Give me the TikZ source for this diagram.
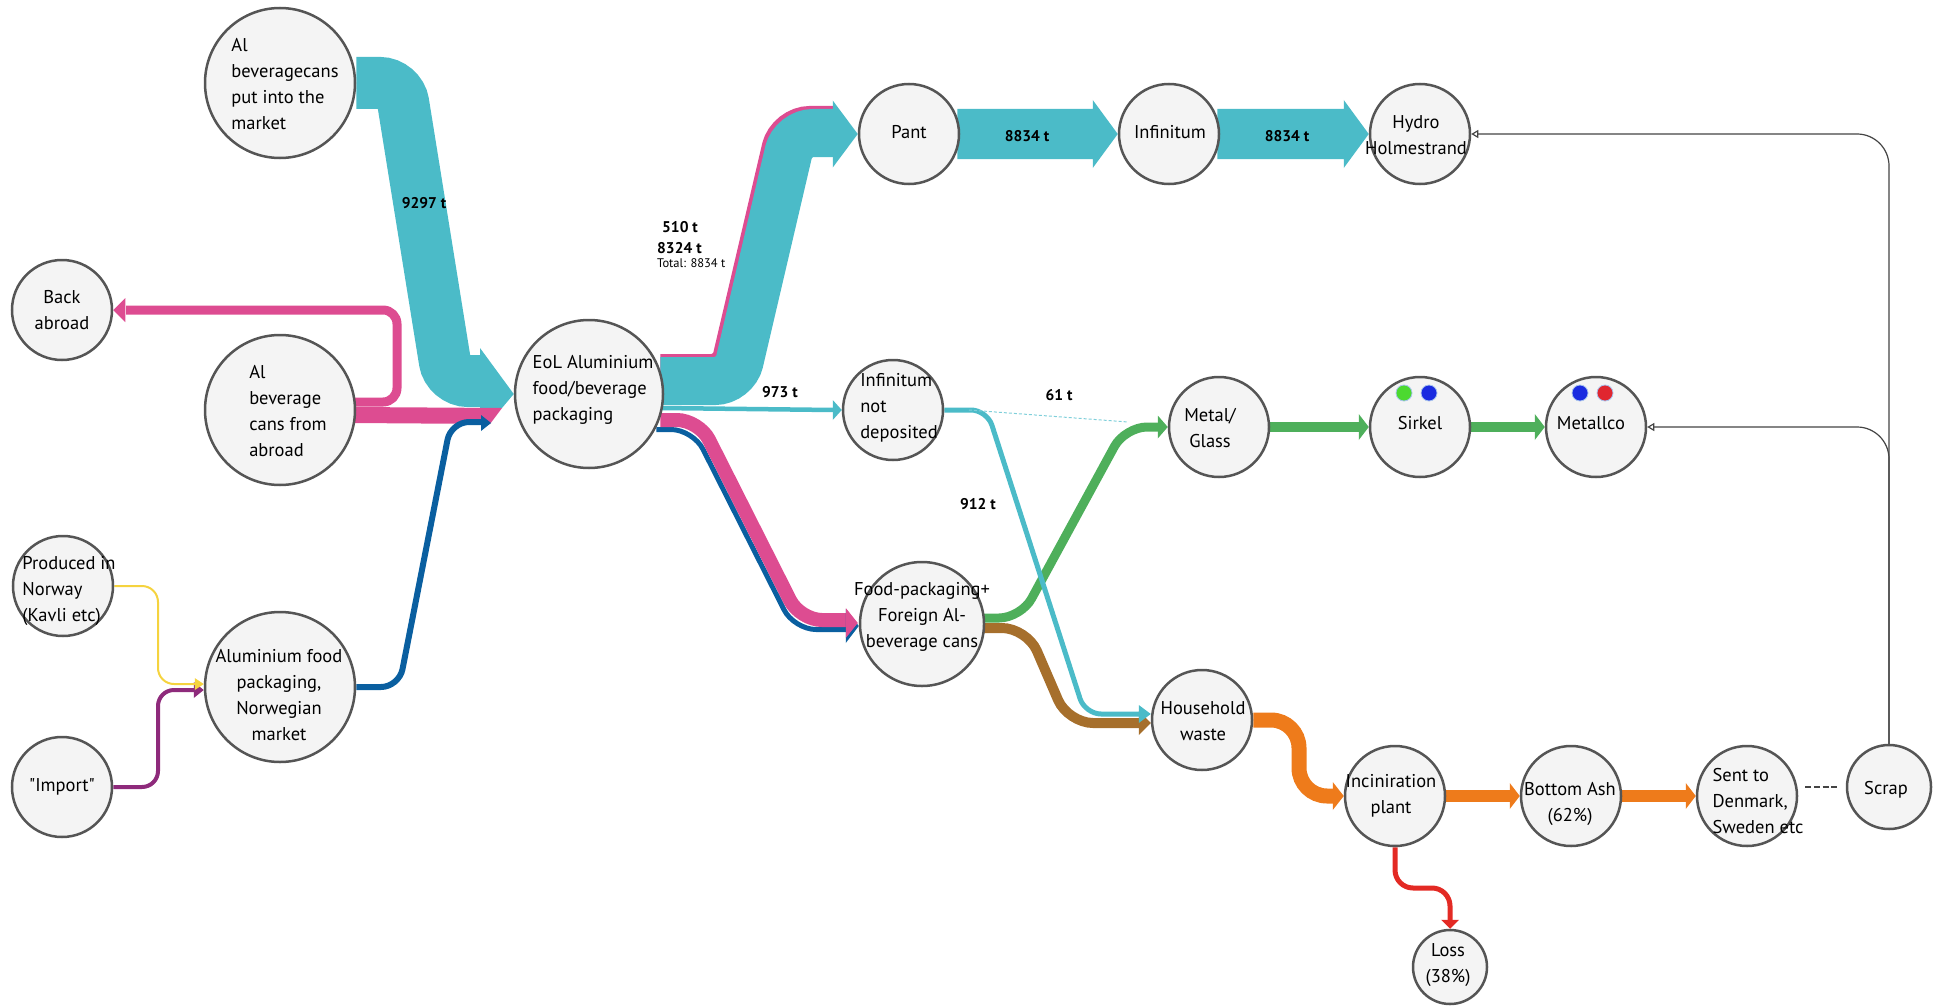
\documentclass[tikz,border=0pt]{standalone}
\usepackage{fontspec}
\setmainfont{PT Sans}
\usetikzlibrary{calc,arrows.meta}
\pgfdeclarelayer{bg}
\pgfsetlayers{bg,main}
\definecolor{cy}{HTML}{4BBBC8}
\definecolor{cyl}{HTML}{7FCFDA}
\definecolor{pk}{HTML}{DD4C91}
\definecolor{bl}{HTML}{0A5FA0}
\definecolor{gr}{HTML}{4EAF5B}
\definecolor{br}{HTML}{A66F2C}
\definecolor{orc}{HTML}{EE7B1B}
\definecolor{rd}{HTML}{E32A24}
\definecolor{yl}{HTML}{F5D33F}
\definecolor{pu}{HTML}{8E2A7B}
\definecolor{ndfill}{HTML}{F4F4F4}
\definecolor{ndline}{HTML}{555555}
\definecolor{blk}{HTML}{444444}
\definecolor{dgreen}{HTML}{4CD930}
\definecolor{dblue}{HTML}{1A2BE0}
\definecolor{dred}{HTML}{E0262F}
\definecolor{dring}{HTML}{A9C4EE}
\newcommand\arrR[4]{\fill[#1] ($(#2)+(-#3,-#4)$) -- (#2) -- ($(#2)+(-#3,#4)$) -- cycle;}
\newcommand\arrL[4]{\fill[#1] ($(#2)+(#3,-#4)$) -- (#2) -- ($(#2)+(#3,#4)$) -- cycle;}
\newcommand\arrD[4]{\fill[#1] ($(#2)+(-#4,-#3)$) -- (#2) -- ($(#2)+(#4,-#3)$) -- cycle;}
\tikzset{
  circ/.style={circle, draw=ndline, fill=ndfill, line width=2.5pt, minimum size=#1, inner sep=0pt},
  ntxt/.style={font=\fontsize{18.5}{26}\selectfont, text=black, inner sep=0pt, align=center},
  lbl/.style={font=\fontsize{15.5}{18}\selectfont\bfseries, text=black, inner sep=0pt},
  lbls/.style={font=\fontsize{12.5}{15}\selectfont, text=black, inner sep=0pt},
  dot/.style={circle, draw=dring, line width=0.8pt, minimum size=16pt, inner sep=0pt},
  thin/.style={draw=blk, line width=1.2pt, rounded corners=32pt, -{Triangle[open,length=7pt,width=8pt]}},
}
\begin{document}
\begin{tikzpicture}[x=1pt,y=-1pt]
\useasboundingbox (0,0) rectangle (1937,1006);

% ---- circles
\node[circ=150pt] (alput) at (280,83) {};
\node[circ=100pt] (back) at (62,310) {};
\node[circ=150pt] (alab) at (280,410) {};
\node[circ=100pt] (prod) at (63,586) {};
\node[circ=100pt] (imp) at (62,787) {};
\node[circ=150pt] (alfood) at (280,687) {};
\node[circ=148pt] (eol) at (589,394) {};
\node[circ=100pt] (pant) at (909,134) {};
\node[circ=100pt] (infin) at (1169,134) {};
\node[circ=100pt] (hydro) at (1420,134) {};
\node[circ=100pt] (infnot) at (893,410) {};
\node[circ=100pt] (metal) at (1219,427) {};
\node[circ=100pt] (sirkel) at (1420,427) {};
\node[circ=100pt] (metallco) at (1596,427) {};
\node[circ=124pt] (foodpk) at (922,624) {};
\node[circ=100pt] (house) at (1202,720) {};
\node[circ=100pt] (incin) at (1395,796) {};
\node[circ=100pt] (ash) at (1571,796) {};
\node[circ=100pt] (sent) at (1747,796) {};
\node[circ=84pt] (scrap) at (1889,787) {};
\node[circ=74pt] (loss) at (1450,967) {};

% ---- dots
\node[dot, fill=dgreen] (sk1) at (1404,393) {};
\node[dot, fill=dblue] (sk2) at (1429,393) {};
\node[dot, fill=dblue] (mc1) at (1580,393) {};
\node[dot, fill=dred] (mc2) at (1605,393) {};

% ---- node texts
\node[ntxt, align=left] (alput-t) at (285,84) {Al\\beveragecans\\put into the\\market};
\node[ntxt] (back-t) at (62,310) {Back\\abroad};
\node[ntxt, align=left] (alab-t) at (288,411) {Al\\beverage\\cans from\\abroad};
\node[ntxt, align=left] (prod-t) at (69,591) {Produced in\\Norway\\(Kavli etc)};
\node[ntxt] (imp-t) at (62,787) {\addfontfeature{Ligatures=TeXOff}"Import"};
\node[ntxt] (alfood-t) at (279,695) {Aluminium food\\packaging,\\Norwegian\\market};
\node[ntxt, align=left] (eol-t) at (593,390) {EoL Aluminium\\food/beverage\\packaging};
\node[ntxt] (pant-t) at (909,132) {Pant};
\node[ntxt] (infin-t) at (1170,132) {Infinitum};
\node[ntxt] (hydro-t) at (1416,135) {Hydro\\Holmestrand};
\node[ntxt, align=left] (infnot-t) at (899,408) {Infinitum\\not\\deposited};
\node[ntxt] (metal-t) at (1210,428) {Metal/\\Glass};
\node[ntxt] (sirkel-t) at (1420,423) {Sirkel};
\node[ntxt] (metallco-t) at (1591,423) {Metallco};
\node[ntxt] (foodpk-t) at (922,617) {Food-packaging+\\Foreign Al-\\beverage cans};
\node[ntxt] (house-t) at (1203,721) {Household\\waste};
\node[ntxt] (incin-t) at (1391,796) {Inciniration\\plant};
\node[ntxt] (ash-t) at (1570,804) {Bottom Ash\\(62\%)};
\node[ntxt, align=left] (sent-t) at (1758,801) {Sent to\\Denmark,\\Sweden etc};
\node[ntxt] (scrap-t) at (1886,790) {Scrap};
\node[ntxt] (loss-t) at (1448,965) {Loss\\(38\%)};

% ---- flow labels
\node[lbl] (l9297) at (424,203) {9297 t};
\node[lbl, anchor=west] (l510) at (662,227) {510 t};
\node[lbl, anchor=west] (l8324) at (657,248) {8324 t};
\node[lbls, anchor=west] (ltot) at (657,263) {Total: 8834 t};
\node[lbl] (l8834a) at (1027,136) {8834 t};
\node[lbl] (l8834b) at (1287,136) {8834 t};
\node[lbl] (l973) at (780,392) {973 t};
\node[lbl] (l61) at (1059,395) {61 t};
\node[lbl] (l912) at (978,504) {912 t};

\coordinate (bltip) at (491,423);
\coordinate (yltip) at ($(alfood.west)+(0,-3)$);
\coordinate (putip) at ($(alfood.west)+(0,3)$);
\coordinate (fpb) at ($(foodpk.west)+(0,2)$);
\coordinate (fpp) at ($(foodpk.west)+(-1,-1)$);
\coordinate (hwc) at ($(house.west)+(0,-6)$);
\coordinate (hwb) at ($(house.west)+(0,3)$);
\coordinate (d61a) at (969,410);
\coordinate (d61b) at (1128,422);

\begin{pgfonlayer}{bg}
% into EoL
\draw[cy, line width=52pt, rounded corners=20pt] (alput.east) -- (400,83) -- (448,381) -- (481,381);
\fill[cy] (480,348) -- (eol.west) -- (502,408) -- (480,408) -- cycle;
\draw[pk, line width=9pt, rounded corners=14pt] ($(alab.east)+(-3,-8)$) -- (397,402) -- (397,310) -- (126,310);
\arrL{pk}{back.east}{12}{12}
\fill[pk] ($(alab.east)+(-3,-3)$) -- (502,408) -- (490,424) -- ($(alab.east)+(-3,13)$) -- cycle;
\draw[bl, line width=6pt, rounded corners=18pt] (alfood.east) -- (399,687) -- (451,422) -- (481,422);
\arrR{bl}{bltip}{10}{8}
% into Aluminium food packaging
\draw[pu, line width=4pt, rounded corners=16pt] (imp.east) -- (158,787) -- (158,690) -- (195,690);
\arrR{pu}{putip}{10}{8}
\draw[yl, line width=2pt, rounded corners=16pt] (prod.east) -- (158,586) -- (158,684) -- (196,684);
\arrR{yl}{yltip}{9}{6}
% EoL to Pant
\draw[pk, line width=48pt, rounded corners=20pt] ($(eol.east)+(-4,-16)$) -- (732,378) -- (790,130) -- (834,130);
\draw[cy, line width=48pt, rounded corners=20pt] ($(eol.east)+(-4,-13)$) -- (735,381) -- (793,133) -- (834,133);
\arrR{cy}{pant.west}{25}{33.5}
% block arrows
\fill[cy] ($(pant.east)+(-3,-25)$) -- ($(infin.west)+(-25,-25)$) -- ($(infin.west)+(-25,-34)$) -- (infin.west) -- ($(infin.west)+(-25,34)$) -- ($(infin.west)+(-25,25)$) -- ($(pant.east)+(-3,25)$) -- cycle;
\fill[cy] ($(infin.east)+(-3,-25)$) -- ($(hydro.west)+(-25,-25)$) -- ($(hydro.west)+(-25,-34)$) -- (hydro.west) -- ($(hydro.west)+(-25,34)$) -- ($(hydro.west)+(-25,25)$) -- ($(infin.east)+(-3,25)$) -- cycle;
% 973 t
\draw[cy, line width=4.5pt] ($(eol.east)+(-4,14)$) -- ($(infnot.west)+(-8,0)$);
\arrR{cy}{infnot.west}{9}{10}
% EoL to food packaging
\draw[bl, line width=5pt, rounded corners=22pt] ($(eol.east)+(-8,35.5)$) -- (693,429.5) -- (794,629.5) -- (846,629.5);
\draw[pk, line width=14pt, rounded corners=22pt] ($(eol.east)+(-4,26)$) -- (699,420) -- (800,620) -- (846,620);
\arrR{bl}{fpb}{13}{17}
\arrR{pk}{fpp}{12}{15}
% green
\draw[gr, line width=9pt, rounded corners=22pt] ($(foodpk.east)+(-3,-6)$) -- (1021,618) -- (1125,427) -- (1158,427);
\arrR{gr}{metal.west}{10}{11.5}
\draw[gr, line width=10pt] (metal.east) -- ($(sirkel.west)+(-9,0)$);
\arrR{gr}{sirkel.west}{10}{13}
\draw[gr, line width=10pt] (sirkel.east) -- ($(metallco.west)+(-9,0)$);
\arrR{gr}{metallco.west}{10}{13}
% brown
\draw[br, line width=10pt, rounded corners=25pt] ($(foodpk.east)+(-3,4)$) -- (1027,628) -- (1068,723) -- (1139,723);
\arrR{br}{hwb}{12}{12}
% 912 t
\draw[cy, line width=5pt, rounded corners=16pt] (infnot.east) -- (987,410) -- (1085,714) -- (1140,714);
\arrR{cy}{hwc}{12}{9}
% 61 t
\draw[cyl, line width=1pt, dash pattern=on 3pt off 2pt] (d61a) -- (d61b);
% orange
\draw[orc, line width=15pt, rounded corners=28pt] (house.east) -- (1299,720) -- (1299,796) -- (1333,796);
\arrR{orc}{incin.west}{11}{14}
\draw[orc, line width=12pt] (incin.east) -- ($(ash.west)+(-9,0)$);
\arrR{orc}{ash.west}{10}{13}
\draw[orc, line width=12pt] (ash.east) -- ($(sent.west)+(-9,0)$);
\arrR{orc}{sent.west}{10}{13}
% red
\draw[rd, line width=5pt, rounded corners=18pt] (incin.south) -- (1395,888) -- (1450,888) -- ($(loss.north)+(0,-8)$);
\arrD{rd}{loss.north}{9}{9}
% scrap return lines
\draw[thin] (scrap.north) -- (scrap.north |- hydro.east) -- (hydro.east);
\draw[thin] (scrap.north) -- (scrap.north |- metallco.east) -- (metallco.east);
\draw[blk, line width=1.5pt, dash pattern=on 6pt off 2.67pt] ($(sent.east)+(7,-9)$) -- ($(scrap.west)+(-7,0)$);
\end{pgfonlayer}
\end{tikzpicture}
\end{document}
